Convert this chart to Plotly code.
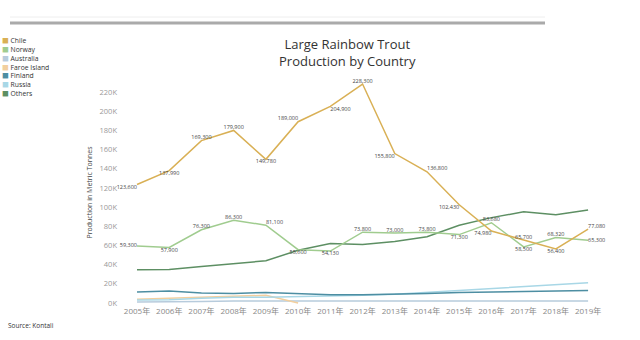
import plotly.graph_objects as go

years = list(range(2005, 2020))
year_labels = [f"{y}年" for y in years]

chile = [123600, 137990, 169300, 179900, 149780, 189000, 204900, 228300, 155800, 136800, 102430, 74980, 65700, 56400, 77080]
norway = [59300, 57900, 76300, 86300, 81100, 55600, 54130, 73800, 73000, 73800, 71300, 83680, 58500, 68320, 65300]
others = [34700, 35000, 38000, 41000, 44000, 55000, 62000, 61000, 64000, 69000, 81000, 89000, 95000, 92000, 97000]
finland = [11500, 12500, 10500, 10000, 11000, 9500, 8500, 8500, 9000, 10000, 11000, 11500, 12000, 12500, 13000]
russia = [3000, 3500, 5000, 6000, 6000, 6500, 7000, 8000, 9000, 11000, 13000, 15000, 17000, 19000, 21000]
australia = [1000, 1000, 1500, 2000, 2000, 2000, 2000, 2000, 2000, 2000, 2000, 2000, 2000, 2000, 2000]
faroe = [4000, 5000, 6000, 7500, 8000, 0, None, None, None, None, None, None, None, None, None]

chile_pos = ["bottom left", "bottom center", "top center", "top center", "bottom center", "top left",
             "bottom right", "top center", "bottom left", "top right", "bottom left", "bottom left",
             "top center", "bottom center", "top right"]
norway_pos = ["middle left", "bottom center", "top center", "top center", "top right", "bottom center",
              "bottom center", "top center", "top center", "top center", "bottom center", "top center",
              "bottom center", "top center", "middle right"]

series = [
    ("Chile", chile, "#d9b055"),
    ("Norway", norway, "#a0cc8f"),
    ("Australia", australia, "#b7cbdc"),
    ("Faroe Island", faroe, "#f2cf9e"),
    ("Finland", finland, "#4d8ea2"),
    ("Russia", russia, "#a8d7e6"),
    ("Others", others, "#5d8f63"),
]

font_fam = "Open Sans, Noto Sans CJK SC, sans-serif"
fig = go.Figure()

draw_order = ["Australia", "Faroe Island", "Russia", "Finland", "Others", "Norway", "Chile"]
lookup = {n: (v, c) for n, v, c in series}
for name in draw_order:
    vals, col = lookup[name]
    if name in ("Chile", "Norway"):
        kw = dict(mode="lines+text",
                  text=[f"{v:,}" for v in vals],
                  textposition=chile_pos if name == "Chile" else norway_pos,
                  textfont=dict(size=5.5, color="#444", family=font_fam),
                  cliponaxis=False)
    else:
        kw = dict(mode="lines")
    fig.add_trace(go.Scatter(x=years, y=vals, name=name, line=dict(color=col, width=1.5),
                             showlegend=False, connectgaps=False, **kw))

legend_lines = "<br>".join(
    f"<span style='color:{c}'>■</span> {n}" for n, v, c in series)
fig.add_annotation(text=legend_lines, xref="paper", yref="paper", x=-118/502, y=1 + (80 - 34) / 225,
                   xanchor="left", yanchor="top", align="left", showarrow=False,
                   font=dict(size=6.8, color="#333", family=font_fam))

fig.add_annotation(text="Source: Kontali", xref="paper", yref="paper", x=-112/502, y=-(325 - 305) / 225,
                   xanchor="left", yanchor="middle", showarrow=False,
                   font=dict(size=6.5, color="#333", family=font_fam))

fig.add_annotation(text="Large Rainbow Trout<br>Production by Country", xref="paper", yref="paper",
                   x=(347 - 118) / 502, y=1 + (80 - 53) / 225, xanchor="center", yanchor="middle",
                   showarrow=False, font=dict(size=13, color="#333", family=font_fam))

# decorative bar at top
fig.add_shape(type="line", xref="paper", yref="paper", x0=-108/502, x1=(545 - 118)/502,
              y0=1 + (80 - 23) / 225, y1=1 + (80 - 23) / 225,
              line=dict(color="#aaaaaa", width=3))
fig.add_shape(type="line", xref="paper", yref="paper", x0=-108/502, x1=(545 - 118)/502,
              y0=1 + (80 - 17) / 225, y1=1 + (80 - 17) / 225,
              line=dict(color="#eeeeee", width=1))

fig.update_layout(
    width=640, height=340,
    margin=dict(l=118, r=20, t=80, b=35),
    paper_bgcolor="white", plot_bgcolor="white",
    font=dict(family=font_fam),
    xaxis=dict(range=[2004.41, 2019.99], tickvals=years, ticktext=year_labels,
               showgrid=False, zeroline=False, showline=False,
               tickfont=dict(size=8, color="#888")),
    yaxis=dict(range=[-2100, 232500], tickvals=list(range(0, 220001, 20000)),
               ticktext=[f"{v // 1000}K" for v in range(0, 220001, 20000)],
               showgrid=False, zeroline=False, showline=False,
               tickfont=dict(size=7.5, color="#999"),
               title=dict(text="Production in Metric Tonnes", font=dict(size=7, color="#444"), standoff=6)),
)

fig.write_html("out.html")
